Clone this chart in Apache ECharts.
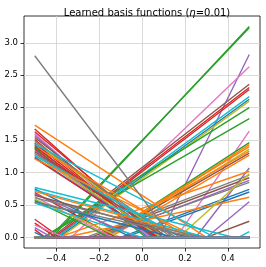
<!DOCTYPE html>
<html><head><meta charset="utf-8">
<script src="https://cdn.jsdelivr.net/npm/echarts@6/dist/echarts.min.js"></script>
<style>html,body{margin:0;padding:0;background:#fff}#c{width:266px;height:267px}</style>
</head><body><div id="c"></div>
<script>
const xTicks = [-0.4, -0.2, 0.0, 0.2, 0.4];
const yTicks = [0.0, 0.5, 1.0, 1.5, 2.0, 2.5, 3.0];
const xLeft = -0.5, xRight = 0.5;
// each basis function: value at x=-0.5, x where it hits zero, value at x=0.5
const leftVals = [
  0,0,0,0,0,0,0,0,0,0,0,0,0,0,0,0,0,0,0,0,0,0,0,0,0,0,0,0,0,0,0,0,0,
  1.73,1.67,1.63,1.60,1.57,1.54,1.51,1.48,1.46,1.45,1.44,1.42,1.40,1.40,1.38,1.36,1.34,1.32,1.30,1.29,1.27,1.26,1.24,1.22,1.21,
  0.77,0.75,0.73,0.71,0.69,0.67,0.65,0.63,0.61,0.59,0.57,0.55,0.54,
  2.80,
  0.28,0.22,0.19,0.15,0.12,0.08,
  0,
  0.53
];
const kinkXs = [
  -0.42,-0.43,0.08,-0.33,-0.42,-0.41,-0.40,-0.40,-0.39,-0.38,-0.46,-0.46,0.16,-0.18,-0.17,-0.19,-0.16,-0.20,-0.18,-0.15,0.25,-0.26,-0.24,-0.20,-0.22,-0.10,-0.08,-0.36,-0.39,0.17,0.30,0.30,0.45,
  0.30,0.07,0.09,0.04,0.06,0.10,0.05,0.14,0.12,0.06,0.34,0.03,0.22,0.07,0.02,0.08,0.05,0.12,0.04,0.16,0.09,0.18,0.06,0.07,0.26,
  0.43,-0.05,0.30,0.27,-0.12,-0.02,0.22,-0.14,0.28,-0.10,-0.15,0.15,0.25,
  0.14,
  -0.38,-0.40,-0.36,-0.42,-0.45,-0.45,
  0.0,
  0.0
];
const rightVals = [
  3.25,3.23,2.82,2.63,2.36,2.31,2.28,2.17,2.13,2.10,2.00,1.83,1.64,1.46,1.43,1.40,1.36,1.33,1.30,1.27,1.07,0.96,0.92,0.88,0.85,0.74,0.70,0.62,1.02,0.98,0.55,0.25,0.09,
  0,0,0,0,0,0,0,0,0,0,0,0,0,0,0,0,0,0,0,0,0,0,0,0,0,
  0,0,0,0,0,0,0,0,0,0,0,0,0,
  0,
  0,0,0,0,0,0,
  0,
  0
];
const lineColors = [
  'g','g','p','pk','br','r','r','c','b','ol','g','g','pk','g','o','o','ol','o','br','o','p','gy','br','p','gy','b','b','o','o','ol','p','br','c',
  'o','r','r','pk','p','br','r','gy','ol','r','c','b','o','r','g','r','p','br','pk','gy','ol','c','b','r','o',
  'c','b','c','o','r','p','br','pk','gy','ol','g','b','gy',
  'gy',
  'r','r','pk','p','r','b',
  'gy',
  'c'
];
const palette = {b:'#1f77b4',o:'#ff7f0e',g:'#2ca02c',r:'#d62728',p:'#9467bd',br:'#8c564b',pk:'#e377c2',gy:'#7f7f7f',ol:'#bcbd22',c:'#17becf'};

const series = leftVals.map((lv, i) => ({
  type: 'line',
  data: [[xLeft, lv], [kinkXs[i], 0], [xRight, rightVals[i]]],
  showSymbol: false,
  symbol: 'none',
  silent: true,
  lineStyle: {color: palette[lineColors[i]], width: 1.4},
  z: 2
}));

const fmt = v => (v < 0 ? '\u2212' : '') + Math.abs(v).toFixed(1);
const chart = echarts.init(document.getElementById('c'), null, {renderer: 'canvas'});
chart.setOption({
  animation: false,
  backgroundColor: '#fff',
  title: {
    text: '{a|Learned basis functions (}{b|η}{a|=0.01)}',
    left: 142, textAlign: 'center', top: 3,
    textStyle: {fontWeight: 'normal', rich: {
      a: {fontFamily: 'DejaVu Sans', fontSize: 10, fontWeight: 'normal', color: '#000'},
      b: {fontFamily: 'DejaVu Sans', fontSize: 10, fontWeight: 'normal', fontStyle: 'italic', color: '#000'}
    }}
  },
  grid: {left: 24, right: 6, top: 16, bottom: 19, show: true, borderColor: '#000', borderWidth: 0.8, backgroundColor: 'transparent'},
  xAxis: {
    type: 'value', min: -0.55, max: 0.55,
    axisLine: {show: false, onZero: false},
    axisTick: {show: true, customValues: xTicks, length: 3.5, lineStyle: {color: '#000', width: 0.8}},
    axisLabel: {customValues: xTicks, formatter: fmt, margin: 6, fontFamily: 'DejaVu Sans', fontSize: 8.5, color: '#000'},
    splitLine: {show: true, lineStyle: {color: '#d0d0d0', width: 0.8}}
  },
  yAxis: {
    type: 'value', min: -0.1625, max: 3.4125,
    axisLine: {show: false, onZero: false},
    axisTick: {show: true, customValues: yTicks, length: 3.5, lineStyle: {color: '#000', width: 0.8}},
    axisLabel: {customValues: yTicks, formatter: v => v.toFixed(1), margin: 6, fontFamily: 'DejaVu Sans', fontSize: 8.5, color: '#000'},
    splitLine: {show: true, lineStyle: {color: '#d0d0d0', width: 0.8}}
  },
  series: series
});
</script>
</body></html>
